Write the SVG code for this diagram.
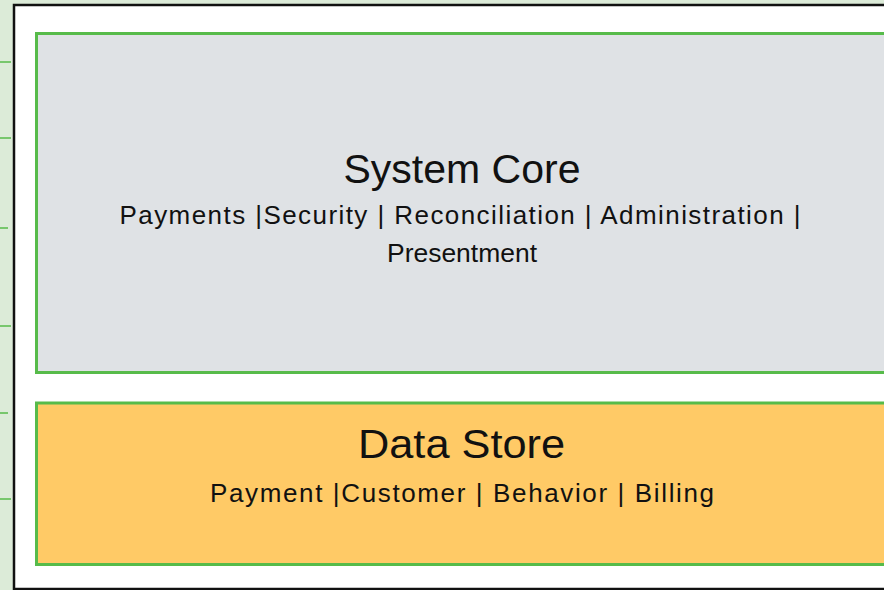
<svg xmlns="http://www.w3.org/2000/svg" width="884" height="590" viewBox="0 0 884 590">
  <style>
    .t { font-family: "Liberation Sans", Arial, sans-serif; fill: #111; text-anchor: middle; }
    .title { font-size: 40px; }
    .sub { font-size: 26px; }
    .tick { stroke: #57bb4a; stroke-width: 1.5; }
    .box { stroke: #57bb4a; stroke-width: 3; }
  </style>
  <rect x="0" y="0" width="884" height="590" fill="#dcebd8"/>
  <rect x="14" y="5" width="880" height="584" fill="#ffffff" stroke="#111" stroke-width="2.5"/>
  <g id="ticks">
    <line class="tick" x1="0" y1="62" x2="11" y2="62"/>
    <line class="tick" x1="0" y1="138" x2="11" y2="138"/>
    <line class="tick" x1="0" y1="228" x2="8" y2="228"/>
    <line class="tick" x1="0" y1="326" x2="11" y2="326"/>
    <line class="tick" x1="0" y1="413" x2="8" y2="413"/>
    <line class="tick" x1="0" y1="499" x2="11" y2="499"/>
  </g>
  <g id="system-core">
    <rect class="box" x="36.5" y="33.5" width="860" height="339" fill="#dfe2e5"/>
    <text class="t title" x="462" y="183" textLength="237" lengthAdjust="spacingAndGlyphs">System Core</text>
    <text class="t sub" x="460" y="224" textLength="681" lengthAdjust="spacing">Payments |Security | Reconciliation | Administration |</text>
    <text class="t sub" x="462" y="262" textLength="150" lengthAdjust="spacingAndGlyphs">Presentment</text>
  </g>
  <g id="data-store">
    <rect class="box" x="36.5" y="403" width="860" height="161.5" fill="#ffca66"/>
    <text class="t title" x="461.5" y="458" textLength="207" lengthAdjust="spacingAndGlyphs">Data Store</text>
    <text class="t sub" x="462" y="502" textLength="504" lengthAdjust="spacing">Payment |Customer | Behavior | Billing</text>
  </g>
  <g id="connectors"/>
</svg>
